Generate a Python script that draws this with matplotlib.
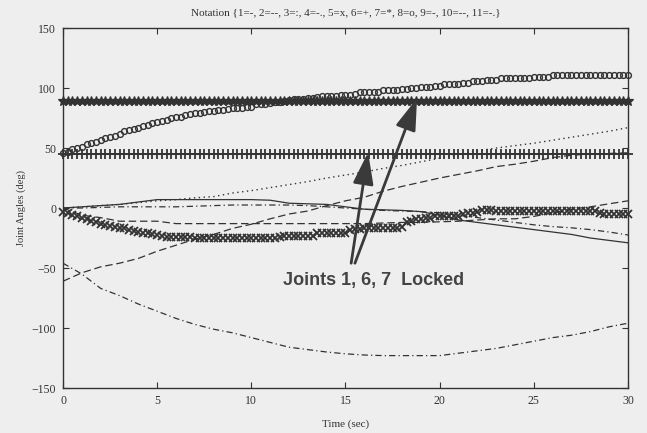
import numpy as np
import matplotlib
matplotlib.use("Agg")
import matplotlib.pyplot as plt

# ---- joint angle histories (deg) ----
# marker-only joints are sampled every 0.25 s, line joints every 1 s
t_fine = np.linspace(0, 30, 121)
t_coarse = np.arange(0, 31)

# locked joints
j1_locked = 89.0   # joint 1 (solid)
j6_locked = 45.0   # joint 6 (+)
j7_locked = 89.0   # joint 7 (*)

# joint 8 (o)
j8 = [46, 47, 49, 50, 51, 53, 54, 55, 57, 58, 59, 60, 62, 64, 65, 66,
      67, 68, 69, 70.5, 72, 72.5, 73, 75, 75.5, 76, 77.5, 78, 79, 79, 80, 80.5,
      81, 81.5, 82, 82.5, 83, 83, 83.5, 84, 84, 86.5, 87, 87, 87.5, 88, 88.5, 89,
      90, 90.5, 91, 91, 91.5, 92, 92.5, 93, 93.5, 93.5, 93.5, 94,
      94, 94.5, 95, 96.5, 96.5, 96.5, 97, 97, 98, 98, 98.5, 98.5,
      99, 99, 100, 100, 101, 101, 101, 101.5, 102, 103, 103, 103,
      103.5, 104, 104.5, 106, 106, 106, 106.5, 106.5, 107, 108, 108, 108,
      108, 108.5, 108.5, 108.5, 109, 109, 109, 109.5, 111, 111, 111, 111,
      111, 111, 111, 111, 111, 111, 111, 111, 111, 111, 111, 111, 111]

# joint 5 (x)
j5 = [-3, -4, -6, -7, -8, -9.5, -11, -12, -13, -14, -15, -16,
      -16.5, -17, -18, -19, -20, -20.5, -21, -22, -22.5, -23, -24, -24,
      -24, -24, -24, -24, -25, -25, -25, -25, -25, -25, -25, -25,
      -25, -25, -25, -25, -25, -25, -25, -25, -25, -25, -24, -23,
      -23, -23, -23, -23, -23, -23, -21, -20.5, -20.5, -20.5, -20.5, -20.5,
      -20.5, -18, -17.5, -17.5, -16.5, -16.5, -16.5, -16.5, -16.5, -16.5, -16.5, -16.5,
      -16, -12, -11, -9, -9, -8.5, -8, -7, -6.5, -6.5, -6.5, -6.5,
      -6.5, -5, -4, -4, -3, -2, -2, -2, -2.5, -2.5, -2.5, -2.5,
      -2.5, -2.5, -2.5, -2.5, -2.5, -2.5, -2.5, -2.5, -2.5, -2.5, -2.5, -2.5,
      -2.5, -2.5, -2.5, -2.5, -2.5, -2.5, -4, -5, -5, -5, -5, -5, -5]

# joint 9 (solid)
j9 = [0, 1, 2, 3, 5, 7, 7, 7, 7, 7, 7, 6.5, 4, 3.5, 3, 1,
      -1, -1.5, -2, -3, -6, -10, -12, -14, -16, -18, -20, -22, -25, -27, -29]

# joint 2 (dashed, rising from -60)
j2 = [-61, -54, -49, -46, -42, -36, -31, -26, -22, -17, -13.5, -9, -5, -2.5, 2, 6,
      9, 14, 18, 21.5, 25, 28, 31, 34.5, 36.5, 39, 42, 44, 45, 45.5, 46]

# joint 10 (dashed, near zero)
j10 = [0, -6, -8, -11, -11, -11, -13, -13, -13, -13, -13, -13, -13, -13, -13, -13,
       -13, -12.5, -12, -12, -11.5, -11, -10, -9, -9, -7, -4, -1, 1, 3.5, 6]

# joint 3 (dotted)
j3 = [0, 1, 2, 3, 4.5, 6, 7, 8.5, 9.5, 12.5, 14.5, 17, 19.5, 22, 25, 27.5,
      30, 33, 35.5, 38.5, 41.5, 44.5, 47.5, 50, 52, 54, 56.5, 59, 61.5, 64, 67]

# joint 4 (dash-dot, deep swing)
j4 = [-46, -55, -67, -73, -80, -86, -92, -97, -101, -104, -108, -112, -116, -118, -120, -121.5,
      -122.5, -123, -123, -123, -123, -121, -119, -117, -114, -111, -108, -106, -103, -99, -96]

# joint 11 (dash-dot, near zero)
j11 = [0, 0, 0.5, 1, 1, 1, 1, 1.5, 2, 2.5, 2.5, 2.5, 2.5, 2, 1, 0,
       -1, -2, -2.5, -3, -4, -6, -8, -10, -12, -14, -15.5, -16.5, -18, -20, -22.5]

x_ticks = [0, 5, 10, 15, 20, 25, 30]
y_ticks = [-150, -100, -50, 0, 50, 100, 150]
title_text = "Notation {1=-, 2=--, 3=:, 4=-., 5=x, 6=+, 7=*, 8=o, 9=-, 10=--, 11=-.}"
note_text = "Joints 1, 6, 7  Locked"

# ---- drawing ----
bg = "#eeeeee"
ink = "#333333"
serif = ["Liberation Serif", "DejaVu Serif"]

fig = plt.figure(figsize=(6.47, 4.33), dpi=100, facecolor=bg)
ax = fig.add_axes([0.0974, 0.1039, 0.8732, 0.8314], facecolor=bg)

lw = 0.9
ones = np.ones_like(t_fine)

# locked joints
ax.plot(t_fine, j1_locked * ones, "-", color=ink, lw=lw)
ax.plot(t_fine, j6_locked * ones, "+", color=ink, ms=7, mew=1.3,
        linestyle="none", clip_on=False)
ax.plot(t_fine, j6_locked * ones, "-", color=ink, lw=1.2)
ax.plot(t_fine, j7_locked * ones, "*", color=ink, ms=7.5, mew=0.9,
        linestyle="none", clip_on=False)

# moving joints
ax.plot(t_fine, j8, "o", color=ink, mfc="none", ms=4.2, mew=1.0,
        linestyle="none", clip_on=False)
ax.plot(t_fine, j5, "x", color=ink, ms=5.5, mew=1.3,
        linestyle="none", clip_on=False)
ax.plot(t_coarse, j9, "-", color=ink, lw=lw)
ax.plot(t_coarse, j2, color=ink, lw=lw, dashes=(6, 3))
ax.plot(t_coarse, j10, color=ink, lw=lw, dashes=(6, 3))
ax.plot(t_coarse, j3, color=ink, lw=1.0, dashes=(1, 2.5))
ax.plot(t_coarse, j4, color=ink, lw=lw, dashes=(5, 2.5, 1, 2.5))
ax.plot(t_coarse, j11, color=ink, lw=lw, dashes=(5, 2.5, 1, 2.5))

ax.set_xlim(0, 30)
ax.set_ylim(-150, 150)
ax.set_xticks(x_ticks)
ax.set_yticks(y_ticks)
ax.tick_params(direction="in", length=4, width=0.8, top=True, right=True,
               labelsize=8.5, colors=ink, pad=5)
for lab in ax.get_xticklabels() + ax.get_yticklabels():
    lab.set_family(serif)
for sp in ax.spines.values():
    sp.set_color(ink)
    sp.set_linewidth(1.0)

ax.set_title(title_text, family=serif, fontsize=8, color=ink, pad=9)
ax.set_xlabel("Time (sec)", family=serif, fontsize=8, color=ink, labelpad=9)
ax.set_ylabel("Joint Angles (deg)", family=serif, fontsize=7.5, color=ink, labelpad=4)

# callout pointing at the locked joints
ax.text(16.5, -60, note_text, ha="center", va="center", fontsize=13,
        fontweight="bold", family=["Liberation Sans", "DejaVu Sans"], color="#444444")
arrow_style = "-|>,head_length=1.4,head_width=0.45"
ax.annotate("", xy=(16.2, 46.5), xytext=(15.3, -46),
            arrowprops=dict(arrowstyle=arrow_style, lw=2.0, color="#3a3a3a",
                            mutation_scale=14, shrinkA=0, shrinkB=0))
ax.annotate("", xy=(18.8, 91.5), xytext=(15.5, -46),
            arrowprops=dict(arrowstyle=arrow_style, lw=2.0, color="#3a3a3a",
                            mutation_scale=14, shrinkA=0, shrinkB=0))

fig.savefig("out.png", dpi=100, facecolor=bg)
